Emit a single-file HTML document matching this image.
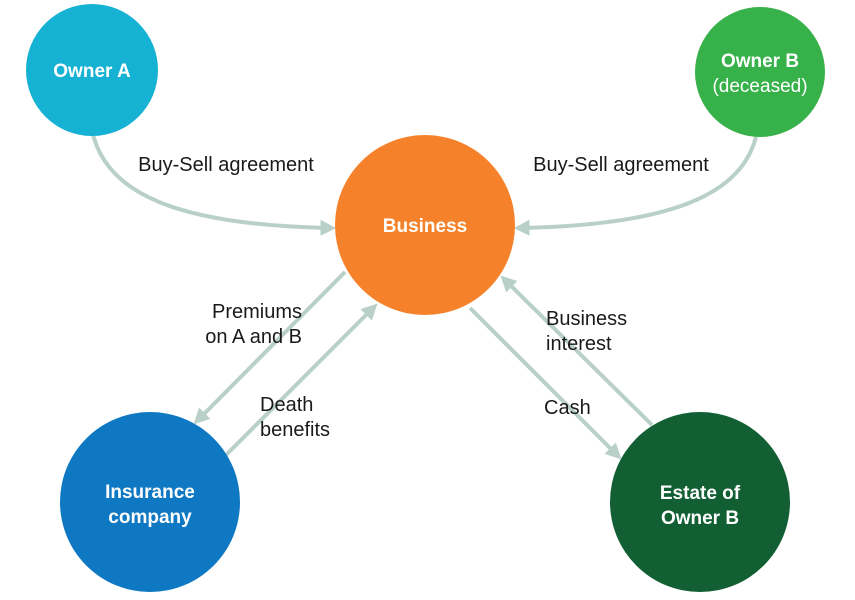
<!DOCTYPE html>
<html><head><meta charset="utf-8"><style>
body{margin:0;background:#fff}
svg{display:block}
text{font-family:"Liberation Sans",sans-serif}
.l{font-size:20px;fill:#1a1a1a}
.w{font-size:19px;fill:#fff;font-weight:bold}
</style></head><body>
<svg width="855" height="600" viewBox="0 0 855 600" xmlns="http://www.w3.org/2000/svg">
<defs>
<marker id="a" viewBox="0 0 10 10" refX="6" refY="5" markerWidth="4" markerHeight="4" orient="auto">
<path d="M0,0 L10,5 L0,10 Z" fill="#b9d0c9"/></marker>
</defs>
<g stroke="#b9d0c9" stroke-width="4" fill="none" marker-end="url(#a)">
<path d="M92,130 C105,195 180,225 330,228"/>
<path d="M757,132 C745,195 670,225 520,228"/>
<path d="M345,272 L198,420"/>
<path d="M226,455 L373,308"/>
<path d="M470,308 L617,455"/>
<path d="M652,425 L505,280"/>
</g>
<circle cx="92" cy="70" r="66" fill="#15b2d3"/>
<circle cx="760" cy="72" r="65" fill="#37b24a"/>
<circle cx="425" cy="225" r="90" fill="#f5822a"/>
<circle cx="150" cy="502" r="90" fill="#0f78c2"/>
<circle cx="700" cy="502" r="90" fill="#135f34"/>
<text class="w" x="92" y="77" text-anchor="middle">Owner A</text>
<text class="w" x="760" y="67" text-anchor="middle">Owner B</text>
<text x="760" y="92" text-anchor="middle" style="font-size:19px;fill:#fff">(deceased)</text>
<text class="w" x="425" y="232" text-anchor="middle">Business</text>
<text class="w" x="150" y="498" text-anchor="middle">Insurance</text>
<text class="w" x="150" y="523" text-anchor="middle">company</text>
<text class="w" x="700" y="499" text-anchor="middle">Estate of</text>
<text class="w" x="700" y="524" text-anchor="middle">Owner B</text>
<text class="l" x="226" y="171" text-anchor="middle">Buy-Sell agreement</text>
<text class="l" x="621" y="171" text-anchor="middle">Buy-Sell agreement</text>
<text class="l" x="302" y="318" text-anchor="end">Premiums</text>
<text class="l" x="302" y="343" text-anchor="end">on A and B</text>
<text class="l" x="260" y="411">Death</text>
<text class="l" x="260" y="436">benefits</text>
<text class="l" x="546" y="325">Business</text>
<text class="l" x="546" y="350">interest</text>
<text class="l" x="544" y="414">Cash</text>
</svg>
</body></html>
